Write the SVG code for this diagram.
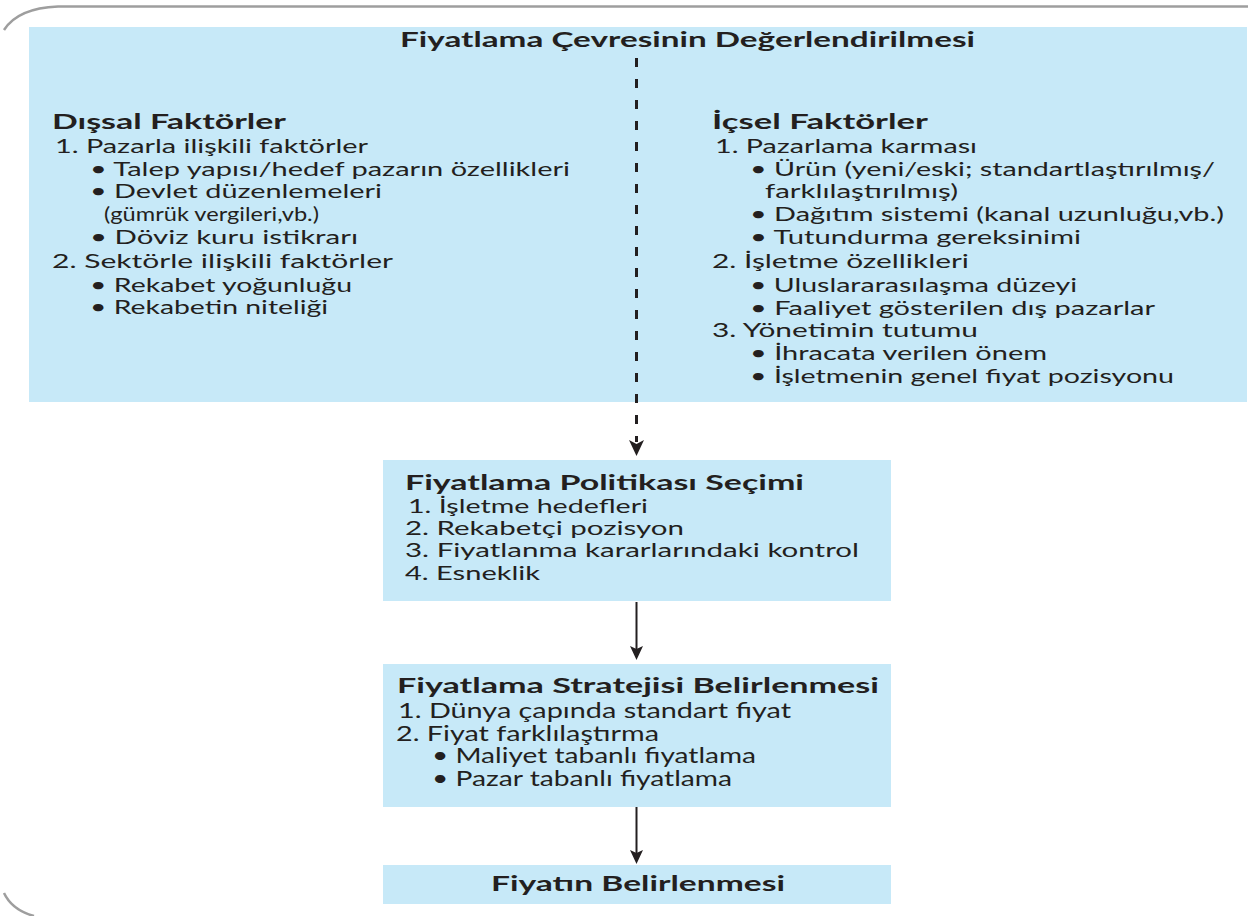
<svg xmlns="http://www.w3.org/2000/svg" width="1248" height="916" viewBox="0 0 1248 916">
<style>
.box{fill:#C7E9F8}
.t{font-family:Lato,"Open Sans","DejaVu Sans",sans-serif;font-size:19.5px;fill:#231F20}
.b{font-weight:700;font-size:20px}
.c{font-size:21px}
.frame{fill:none;stroke:#9E9E9E;stroke-width:2.5}
.conn{stroke:#231F20;fill:none}
.head{fill:#231F20}
</style>
<rect width="1248" height="916" fill="#fff"/>
<path class="frame" d="M4 30 Q18 8 58 6.5 L1248 6.5"/>
<path class="frame" d="M4 893 Q12 910 34 916"/>
<g id="node-env">
<rect class="box" x="29" y="27" width="1218" height="375"/>
<text class="t b" x="400" y="47" textLength="575" lengthAdjust="spacingAndGlyphs">Fiyatlama Çevresinin Değerlendirilmesi</text>
<text class="t b" x="52" y="129" textLength="234" lengthAdjust="spacingAndGlyphs">Dışsal Faktörler</text>
<text class="t" x="55" y="153" textLength="313" lengthAdjust="spacingAndGlyphs">1. Pazarla ilişkili faktörler</text>
<text class="t" x="90" y="176" textLength="480" lengthAdjust="spacingAndGlyphs">• Talep yapısı/hedef pazarın özellikleri</text>
<text class="t" x="90" y="198" textLength="292" lengthAdjust="spacingAndGlyphs">• Devlet düzenlemeleri</text>
<text class="t" x="104" y="221" textLength="215" lengthAdjust="spacingAndGlyphs">(gümrük vergileri,vb.)</text>
<text class="t" x="90" y="244" textLength="268" lengthAdjust="spacingAndGlyphs">• Döviz kuru istikrarı</text>
<text class="t" x="52" y="268" textLength="341" lengthAdjust="spacingAndGlyphs">2. Sektörle ilişkili faktörler</text>
<text class="t" x="90" y="292" textLength="262" lengthAdjust="spacingAndGlyphs">• Rekabet yoğunluğu</text>
<text class="t" x="90" y="314" textLength="238" lengthAdjust="spacingAndGlyphs">• Rekabetin niteliği</text>
<text class="t b" x="712" y="129" textLength="216" lengthAdjust="spacingAndGlyphs">İçsel Faktörler</text>
<text class="t" x="715" y="153" textLength="262" lengthAdjust="spacingAndGlyphs">1. Pazarlama karması</text>
<text class="t" x="750" y="176" textLength="465" lengthAdjust="spacingAndGlyphs">• Ürün (yeni/eski; standartlaştırılmış/</text>
<text class="t" x="765" y="198" textLength="193" lengthAdjust="spacingAndGlyphs">farklılaştırılmış)</text>
<text class="t" x="750" y="221" textLength="474" lengthAdjust="spacingAndGlyphs">• Dağıtım sistemi (kanal uzunluğu,vb.)</text>
<text class="t" x="750" y="244" textLength="331" lengthAdjust="spacingAndGlyphs">• Tutundurma gereksinimi</text>
<text class="t" x="712" y="268" textLength="257" lengthAdjust="spacingAndGlyphs">2. İşletme özellikleri</text>
<text class="t" x="750" y="292" textLength="327" lengthAdjust="spacingAndGlyphs">• Uluslararasılaşma düzeyi</text>
<text class="t" x="750" y="315" textLength="405" lengthAdjust="spacingAndGlyphs">• Faaliyet gösterilen dış pazarlar</text>
<text class="t" x="712" y="337" textLength="266" lengthAdjust="spacingAndGlyphs">3. Yönetimin tutumu</text>
<text class="t" x="750" y="360" textLength="297" lengthAdjust="spacingAndGlyphs">• İhracata verilen önem</text>
<text class="t" x="750" y="383" textLength="424" lengthAdjust="spacingAndGlyphs">• İşletmenin genel fiyat pozisyonu</text>
</g>
<g id="node-policy">
<rect class="box" x="383" y="460" width="508" height="141"/>
<text class="t b" x="405" y="490" textLength="399" lengthAdjust="spacingAndGlyphs">Fiyatlama Politikası Seçimi</text>
<text class="t" x="408" y="513" textLength="240" lengthAdjust="spacingAndGlyphs">1. İşletme hedefleri</text>
<text class="t" x="405" y="535" textLength="279" lengthAdjust="spacingAndGlyphs">2. Rekabetçi pozisyon</text>
<text class="t" x="405" y="557" textLength="454" lengthAdjust="spacingAndGlyphs">3. Fiyatlanma kararlarındaki kontrol</text>
<text class="t" x="405" y="580" textLength="135" lengthAdjust="spacingAndGlyphs">4. Esneklik</text>
</g>
<g id="node-strategy">
<rect class="box" x="383" y="664" width="508" height="143"/>
<text class="t b" x="397" y="693" textLength="482" lengthAdjust="spacingAndGlyphs">Fiyatlama Stratejisi Belirlenmesi</text>
<text class="t c" x="398" y="718" textLength="393" lengthAdjust="spacingAndGlyphs">1. Dünya çapında standart fiyat</text>
<text class="t c" x="396" y="741" textLength="263" lengthAdjust="spacingAndGlyphs">2. Fiyat farklılaştırma</text>
<text class="t c" x="432" y="763" textLength="324" lengthAdjust="spacingAndGlyphs">• Maliyet tabanlı fiyatlama</text>
<text class="t c" x="432" y="786" textLength="300" lengthAdjust="spacingAndGlyphs">• Pazar tabanlı fiyatlama</text>
</g>
<g id="node-price">
<rect class="box" x="383" y="865" width="508" height="39"/>
<text class="t b" x="491" y="891" textLength="294" lengthAdjust="spacingAndGlyphs">Fiyatın Belirlenmesi</text>
</g>
<g id="connectors">
<line class="conn" x1="636.5" y1="58" x2="636.5" y2="442" stroke-width="3" stroke-dasharray="9 12"/>
<path class="head" d="M629 440 L636.5 444 L644 440 L636.5 456 Z"/>
<line class="conn" x1="636.5" y1="602" x2="636.5" y2="652" stroke-width="2"/>
<path class="head" d="M630 646 L636.5 649 L643 646 L636.5 660 Z"/>
<line class="conn" x1="636.5" y1="807" x2="636.5" y2="856" stroke-width="2"/>
<path class="head" d="M630 850 L636.5 853 L643 850 L636.5 864 Z"/>
</g>
</svg>
